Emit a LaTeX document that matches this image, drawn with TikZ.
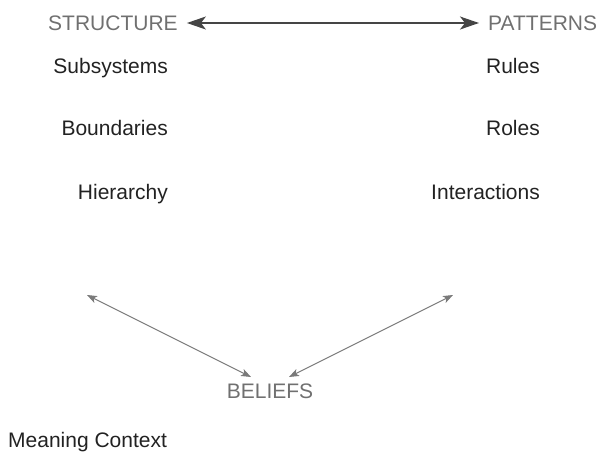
\documentclass[tikz,border=0pt]{standalone}
\usepackage{fontspec}
\setmainfont{Liberation Sans}
\usetikzlibrary{arrows.meta,calc}
\definecolor{headgray}{HTML}{707070}
\definecolor{linkdark}{HTML}{454545}
\definecolor{linkgray}{HTML}{7A7A7A}
\definecolor{itemink}{HTML}{222222}
\begin{document}
\begin{tikzpicture}[x=1pt,y=-1pt,
  heading/.style={inner sep=0pt,text=headgray,font=\fontsize{21}{24}\selectfont},
  item/.style={inner sep=0pt,text=itemink,font=\fontsize{21}{24}\selectfont},
  mainlink/.style={draw=linkdark,line width=1.4pt,
    {Stealth[length=19pt,width=13pt,inset=5pt]}-{Stealth[length=19pt,width=13pt,inset=5pt]}},
  sidelink/.style={draw=linkgray,line width=1pt,
    {Stealth[length=10pt,width=7.5pt,inset=2.5pt]}-{Stealth[length=10pt,width=7.5pt,inset=2.5pt]}}]
\useasboundingbox (0,0) rectangle (603,451);

% headings
\node[heading,anchor=base west] (structure) at (48,30) {STRUCTURE};
\node[heading,anchor=base west] (patterns) at (488,30) {PATTERNS};
\node[heading,anchor=base] (beliefs) at (270,398) {BELIEFS};

% left column
\node[item,anchor=base east] (subsys) at (168,73) {Subsystems};
\node[item,anchor=base east] (bounds) at (168,135) {Boundaries};
\node[item,anchor=base east] (hier) at (168,199) {Hierarchy};

% right column
\node[item,anchor=base east] (rules) at (540,73) {Rules};
\node[item,anchor=base east] (roles) at (540,135) {Roles};
\node[item,anchor=base east] (inter) at (540,199) {Interactions};

% footer
\node[item,anchor=base west] (meaning) at (8,447) {Meaning Context};

% structure <-> patterns
\draw[mainlink] ($(structure.base east)+(9,-7)$) -- ($(patterns.base west)+(-9,-7)$);

% links down to beliefs
\coordinate (leftend) at (87,295);
\coordinate (rightend) at (453,295);
\coordinate (beliefsl) at (251,377);
\coordinate (beliefsr) at (289,377);
\draw[sidelink] (leftend) -- (beliefsl);
\draw[sidelink] (rightend) -- (beliefsr);
\end{tikzpicture}
\end{document}
